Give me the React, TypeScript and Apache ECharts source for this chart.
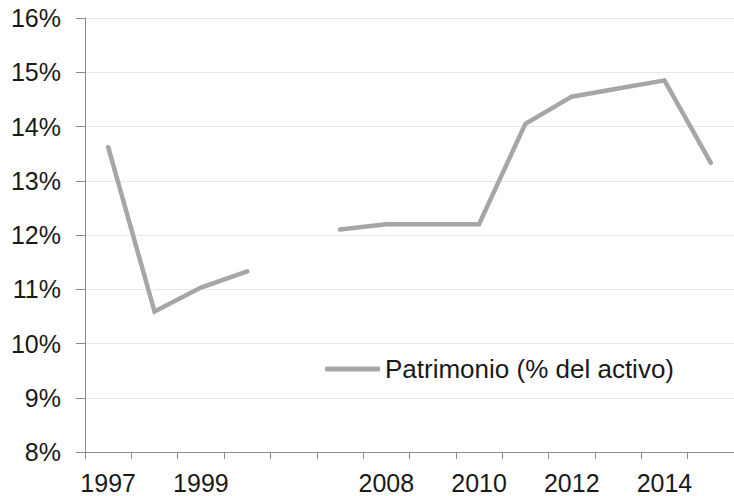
import React, { useEffect, useRef } from "react";
import * as echarts from "echarts";

const categories = ["1997", "1998", "1999", "2000", "", "2007", "2008", "2009", "2010", "2011", "2012", "2013", "2014", "2015"];
const patrimonio = [13.62, 10.59, 11.03, 11.33, null, 12.1, 12.2, 12.2, 12.2, 14.05, 14.55, 14.7, 14.85, 13.33];
const seriesName = "Patrimonio (% del activo)";

export default function App() {
  const ref = useRef<HTMLDivElement>(null);
  useEffect(() => {
    if (!ref.current) return;
    const chart = echarts.init(ref.current, undefined, { renderer: "svg" });
    const font = "'Liberation Sans', Arial, sans-serif";
    chart.setOption({
      animation: false,
      backgroundColor: "#ffffff",
      grid: { left: 85, top: 18, width: 655, height: 434, containLabel: false },
      legend: {
        data: [seriesName],
        left: 325,
        top: 356,
        padding: 0,
        icon: "roundRect",
        itemWidth: 55,
        itemHeight: 5,
        itemGap: 5,
        textStyle: { fontFamily: font, fontSize: 26, color: "#1a1a1a" },
      },
      xAxis: {
        type: "category",
        data: categories,
        boundaryGap: true,
        axisLine: { lineStyle: { color: "#8c8c8c", width: 1 } },
        axisTick: { show: true, interval: 0, length: 7, lineStyle: { color: "#8c8c8c" } },
        axisLabel: { interval: 1, margin: 18, fontFamily: font, fontSize: 25, color: "#1a1a1a" },
        splitLine: { show: false },
      },
      yAxis: {
        type: "value",
        min: 8,
        max: 16,
        interval: 1,
        axisLine: { show: true, lineStyle: { color: "#8c8c8c", width: 1 } },
        axisTick: { show: true, length: 9, lineStyle: { color: "#8c8c8c" } },
        axisLabel: { formatter: "{value}%", margin: 24, fontFamily: font, fontSize: 25, color: "#1a1a1a" },
        splitLine: { show: true, lineStyle: { color: "#e8e8e8", width: 1 } },
      },
      series: [
        {
          name: seriesName,
          type: "line",
          data: patrimonio,
          symbol: "none",
          showSymbol: false,
          connectNulls: false,
          itemStyle: { color: "#a6a6a6" },
          lineStyle: { color: "#a6a6a6", width: 4.5, cap: "round", join: "miter" },
        },
      ],
    });
    return () => chart.dispose();
  }, []);
  return <div ref={ref} style={{ position: "fixed", left: 0, top: 0, width: 734, height: 496 }} />;
}
